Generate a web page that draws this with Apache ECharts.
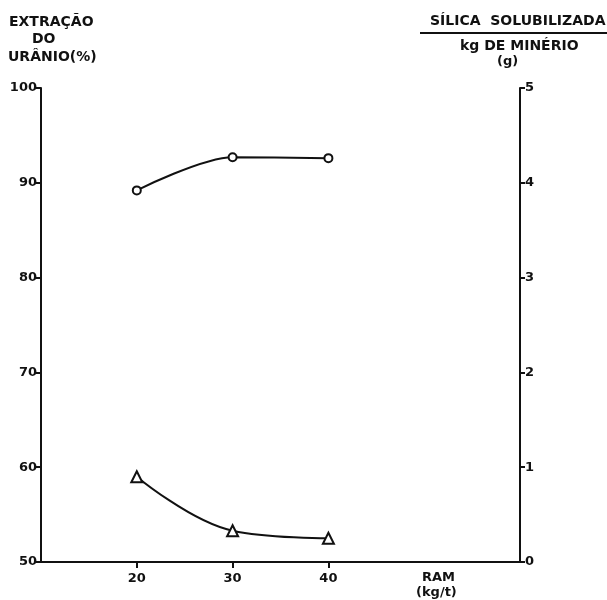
<!DOCTYPE html>
<html>
<head>
<meta charset="utf-8">
<script src="https://cdn.jsdelivr.net/npm/echarts@6/dist/echarts.min.js"></script>
<style>
  html, body { margin: 0; padding: 0; background: #fff; }
  #chart { width: 607px; height: 600px; }
</style>
</head>
<body>
<div id="chart"></div>
<script>
// RAM dosage (kg/t)
const ramDose = [20, 30, 40];
// Uranium extraction (%) — left axis
const uraniumExtraction = [89.2, 92.7, 92.6];
// Solubilized silica per kg of ore (g) — right axis
const silicaSolubilized = [0.9, 0.33, 0.25];
// Tick values
const xTicks = [20, 30, 40];

const ink = '#111';
const font = '"DejaVu Sans", "Liberation Sans", sans-serif';

const chart = echarts.init(document.getElementById('chart'), null, { renderer: 'canvas' });

const pairs = (xs, ys) => xs.map((x, i) => [x, ys[i]]);

const tickLabel = {
  color: ink,
  fontFamily: font,
  fontWeight: 'bold',
  fontSize: 13
};

chart.setOption({
  backgroundColor: '#fff',
  animation: false,
  grid: { left: 41, right: 87, top: 88, bottom: 38, containLabel: false },
  xAxis: {
    type: 'value',
    min: 10,
    max: 60,
    splitLine: { show: false },
    axisLine: { lineStyle: { color: ink, width: 2 } },
    axisTick: { customValues: xTicks, length: 6, lineStyle: { color: ink, width: 2 } },
    axisLabel: Object.assign({ customValues: xTicks, margin: 10 }, tickLabel)
  },
  yAxis: [
    {
      type: 'value',
      position: 'left',
      min: 50,
      max: 100,
      interval: 10,
      splitLine: { show: false },
      axisLine: { show: true, lineStyle: { color: ink, width: 2 } },
      axisTick: { show: true, length: 5, lineStyle: { color: ink, width: 2 } },
      axisLabel: Object.assign({ margin: 4 }, tickLabel)
    },
    {
      type: 'value',
      position: 'right',
      min: 0,
      max: 5,
      interval: 1,
      splitLine: { show: false },
      axisLine: { show: true, lineStyle: { color: ink, width: 2 } },
      axisTick: { show: true, length: 5, lineStyle: { color: ink, width: 2 } },
      axisLabel: Object.assign({ margin: 5 }, tickLabel)
    }
  ],
  series: [
    {
      name: 'Extração do urânio',
      type: 'line',
      yAxisIndex: 0,
      data: pairs(ramDose, uraniumExtraction),
      smooth: 0.3,
      symbol: 'circle',
      symbolSize: 8,
      lineStyle: { color: ink, width: 2 },
      itemStyle: { color: '#fff', borderColor: ink, borderWidth: 2 }
    },
    {
      name: 'Sílica solubilizada',
      type: 'line',
      yAxisIndex: 1,
      data: pairs(ramDose, silicaSolubilized),
      smooth: 0.4,
      symbol: 'triangle',
      symbolSize: 11,
      lineStyle: { color: ink, width: 2 },
      itemStyle: { color: '#fff', borderColor: ink, borderWidth: 2 }
    }
  ],
  graphic: [
    // left axis title
    { type: 'text', left: 9, top: 15, style: { text: 'EXTRAÇÃO', font: 'bold 14px ' + font, fill: ink } },
    { type: 'text', left: 32, top: 32, style: { text: 'DO', font: 'bold 14px ' + font, fill: ink } },
    { type: 'text', left: 8, top: 50, style: { text: 'URÂNIO(%)', font: 'bold 14px ' + font, fill: ink } },
    // right axis title (fraction)
    { type: 'text', left: 430, top: 14, style: { text: 'SÍLICA  SOLUBILIZADA', font: 'bold 14px ' + font, fill: ink } },
    { type: 'line', shape: { x1: 420, y1: 33, x2: 607, y2: 33 }, style: { stroke: ink, lineWidth: 2 } },
    { type: 'text', left: 460, top: 39, style: { text: 'kg DE MINÉRIO', font: 'bold 14px ' + font, fill: ink } },
    { type: 'text', left: 497, top: 55, style: { text: '(g)', font: 'bold 13px ' + font, fill: ink } },
    // x axis name
    { type: 'text', left: 422, top: 571, style: { text: 'RAM', font: 'bold 13px ' + font, fill: ink } },
    { type: 'text', left: 416, top: 586, style: { text: '(kg/t)', font: 'bold 13px ' + font, fill: ink } }
  ]
});
</script>
</body>
</html>
